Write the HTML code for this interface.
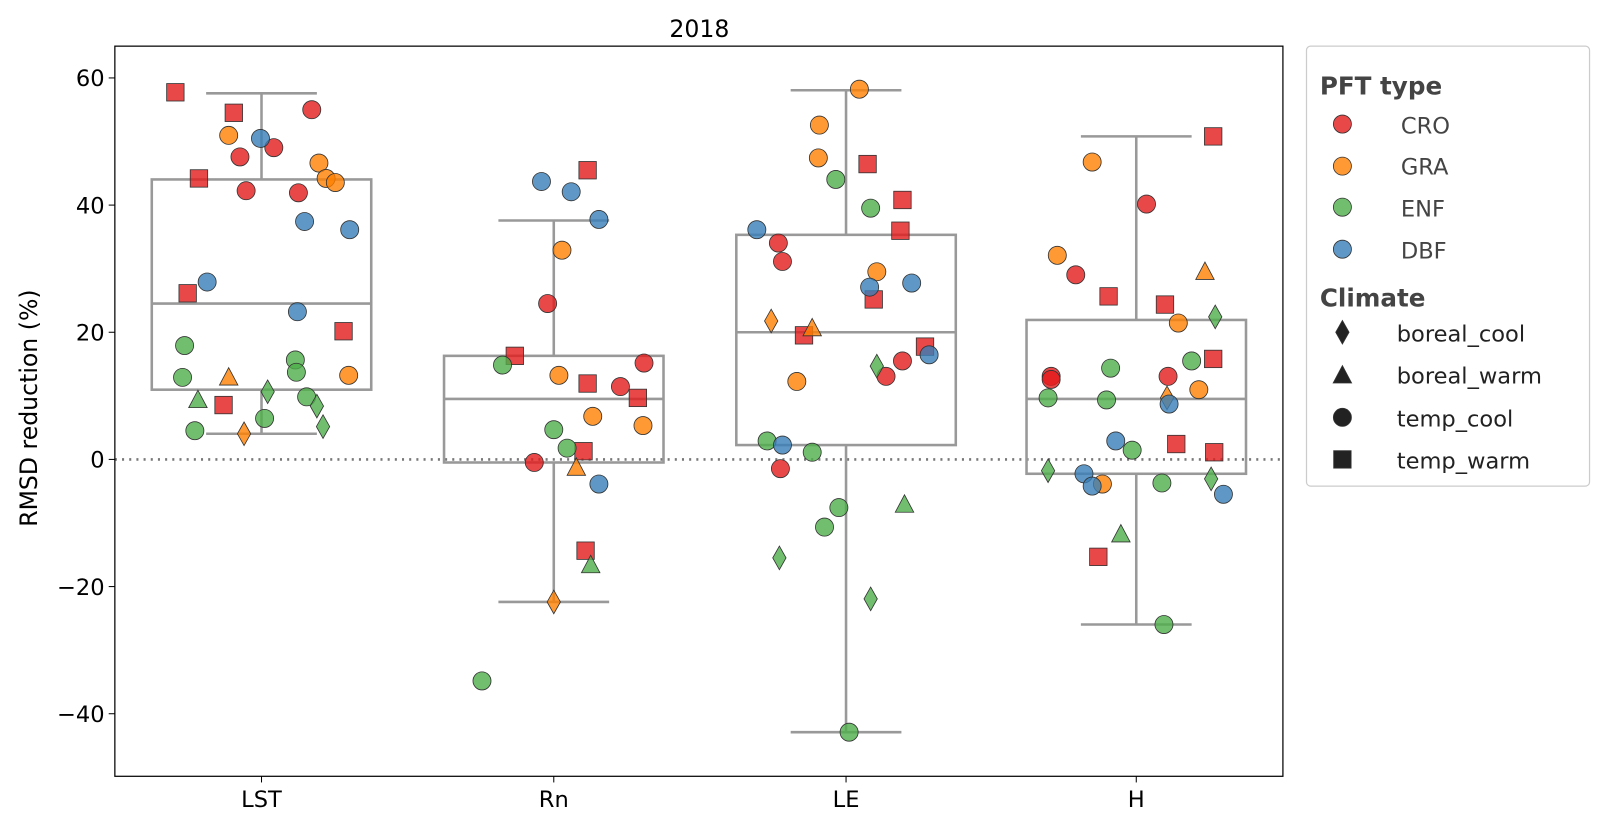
<!DOCTYPE html>
<html><head><meta charset="utf-8"><style>
html,body{margin:0;padding:0;background:#fff;}
svg{display:block;font-family:"DejaVu Sans","Liberation Sans",sans-serif;}
</style></head><body>
<svg id="s" width="1608" height="825" viewBox="0 0 1568 804.5" preserveAspectRatio="none" xmlns="http://www.w3.org/2000/svg">
<rect width="1568" height="805" fill="#fff"/>
<text x="682" y="36" font-size="23" text-anchor="middle">2018</text>
<line x1="112" y1="448" x2="1251" y2="448" stroke="#777" stroke-width="2.5" stroke-dasharray="2,5"/>
<g id="boxes" fill="none" stroke="#999" stroke-width="2.5"></g>
<g id="pts"></g>
<rect x="112" y="45" width="1139" height="712" fill="none" stroke="#000" stroke-width="1.2"/>
<g font-size="22" text-anchor="end">
<line x1="106" y1="76" x2="112" y2="76" stroke="#000"/><text x="102" y="84">60</text>
<line x1="106" y1="200" x2="112" y2="200" stroke="#000"/><text x="102" y="208">40</text>
<line x1="106" y1="324" x2="112" y2="324" stroke="#000"/><text x="102" y="332">20</text>
<line x1="106" y1="448" x2="112" y2="448" stroke="#000"/><text x="102" y="456">0</text>
<line x1="106" y1="572" x2="112" y2="572" stroke="#000"/><text x="102" y="580">−20</text>
<line x1="106" y1="696" x2="112" y2="696" stroke="#000"/><text x="102" y="704">−40</text>
</g>
<g font-size="22" text-anchor="middle">
<line x1="255" y1="757" x2="255" y2="763" stroke="#000"/><text x="255" y="787">LST</text>
<line x1="540" y1="757" x2="540" y2="763" stroke="#000"/><text x="540" y="787">Rn</text>
<line x1="825" y1="757" x2="825" y2="763" stroke="#000"/><text x="825" y="787">LE</text>
<line x1="1108" y1="757" x2="1108" y2="763" stroke="#000"/><text x="1108" y="787">H</text>
</g>
<text transform="translate(36,398) rotate(-90)" font-size="23" text-anchor="middle">RMSD reduction (%)</text>
<rect x="1274" y="45" width="276" height="429" rx="4" fill="#fff" stroke="#ccc" stroke-width="1.2"/>
<g font-size="22" fill="#444">
<text x="1287" y="92" font-weight="bold" font-size="24">PFT type</text>
<text x="1366" y="130">CRO</text>
<text x="1366" y="170">GRA</text>
<text x="1366" y="211">ENF</text>
<text x="1366" y="252">DBF</text>
<text x="1287" y="299" font-weight="bold" font-size="24">Climate</text>
<text x="1362" y="333" fill="#222">boreal_cool</text>
<text x="1362" y="374" fill="#222">boreal_warm</text>
<text x="1362" y="416" fill="#222">temp_cool</text>
<text x="1362" y="457" fill="#222">temp_warm</text>
</g>
<g id="leg"></g>
</svg>
<script>
var NS="http://www.w3.org/2000/svg";
function el(p,t,a){var e=document.createElementNS(NS,t);for(var k in a)e.setAttribute(k,a[k]);p.appendChild(e);return e;}
var C={r:"#e41a1c",o:"#ff7f00",g:"#4daf4a",b:"#377eb8",k:"#222"};
function mk(p,x,y,c,s,op){
 var a={fill:C[c],stroke:"#333","stroke-width":0.8,"fill-opacity":op};
 if(s=="c"){a.cx=x;a.cy=y;a.r=8.8;el(p,"circle",a);}
 else if(s=="s"){a.x=x-8.5;a.y=y-8.5;a.width=17;a.height=17;el(p,"rect",a);}
 else if(s=="t"){a.points=(x)+","+(y-9.5)+" "+(x+9)+","+(y+7.5)+" "+(x-9)+","+(y+7.5);el(p,"polygon",a);}
 else {a.points=(x)+","+(y-11.5)+" "+(x+6.5)+","+(y)+" "+(x)+","+(y+11.5)+" "+(x-6.5)+","+(y);el(p,"polygon",a);}
}
var B=document.getElementById("boxes");
[[255,91,175,296,380,423],[540,215,347,389,451,587],[825,88,229,324,434,714],[1108,133,312,389,462,609]].forEach(function(b){
 var x=b[0];
 el(B,"rect",{x:x-107,y:b[2],width:214,height:b[4]-b[2]});
 el(B,"line",{x1:x-107,y1:b[3],x2:x+107,y2:b[3]});
 el(B,"line",{x1:x,y1:b[1],x2:x,y2:b[2]});
 el(B,"line",{x1:x,y1:b[4],x2:x,y2:b[5]});
 el(B,"line",{x1:x-54,y1:b[1],x2:x+54,y2:b[1]});
 el(B,"line",{x1:x-54,y1:b[5],x2:x+54,y2:b[5]});
});
var P=[
"171,90,r,s","228,110,r,s","194,174,r,s","183,286,r,s","335,323,r,s","218,395,r,s",
"223,132,o,c","311,159,o,c","318,174,o,c","327,178,o,c","340,366,o,c","223,368,o,t","238,423,o,d",
"304,107,r,c","234,153,r,c","267,144,r,c","240,186,r,c","291,188,r,c",
"254,135,b,c","297,216,b,c","341,224,b,c","202,275,b,c","290,304,b,c",
"180,337,g,c","178,368,g,c","288,351,g,c","289,363,g,c","299,387,g,c","258,408,g,c","190,420,g,c",
"193,390,g,t","261,382,g,d","309,396,g,d","315,416,g,d",
"573,166,r,s","502,347,r,s","573,374,r,s","622,388,r,s","569,440,r,s","571,537,r,s",
"528,177,b,c","557,187,b,c","584,214,b,c","584,472,b,c",
"548,244,o,c","545,366,o,c","578,406,o,c","627,415,o,c",
"534,296,r,c","628,354,r,c","605,377,r,c","521,451,r,c",
"490,356,g,c","540,419,g,c","553,437,g,c","470,664,g,c",
"562,456,o,t","576,551,g,t","540,587,o,d",
"838,87,o,c","799,122,o,c","798,154,o,c","855,265,o,c","777,372,o,c",
"846,160,r,s","880,195,r,s","878,225,r,s","852,292,r,s","784,327,r,s","902,338,r,s",
"815,175,g,c","849,203,g,c","748,430,g,c","792,441,g,c","818,495,g,c","804,514,g,c","828,714,g,c",
"738,224,b,c","848,280,b,c","889,276,b,c","906,346,b,c","763,434,b,c",
"759,237,r,c","763,255,r,c","880,352,r,c","864,367,r,c","761,457,r,c",
"752,313,o,d","792,320,o,t","855,357,g,d","760,544,g,d","849,584,g,d","882,492,g,t",
"1183,133,r,s","1081,289,r,s","1136,297,r,s","1183,350,r,s","1147,433,r,s","1184,441,r,s","1071,543,r,s",
"1065,158,o,c","1031,249,o,c","1149,315,o,c","1169,380,o,c","1075,472,o,c",
"1118,199,r,c","1049,268,r,c","1025,367,r,c","1025,370,r,c","1139,367,r,c",
"1175,265,o,t","1138,388,o,d","1185,309,g,d","1022,459,g,d","1181,467,g,d","1093,521,g,t",
"1083,359,g,c","1162,352,g,c","1022,388,g,c","1079,390,g,c","1104,439,g,c","1133,471,g,c","1135,609,g,c",
"1140,394,b,c","1088,430,b,c","1057,462,b,c","1065,474,b,c","1193,482,b,c"];
var G=document.getElementById("pts");
P.forEach(function(s){var a=s.split(",");mk(G,+a[0],+a[1],a[2],a[3],0.8);});
var L=document.getElementById("leg");
mk(L,1309,121,"r","c",0.8);mk(L,1309,162,"o","c",0.8);mk(L,1309,202,"g","c",0.8);mk(L,1309,243,"b","c",0.8);
mk(L,1309,324,"k","d",1);mk(L,1309,366,"k","t",1);mk(L,1309,407,"k","c",1);mk(L,1309,448,"k","s",1);
</script>
</body></html>
